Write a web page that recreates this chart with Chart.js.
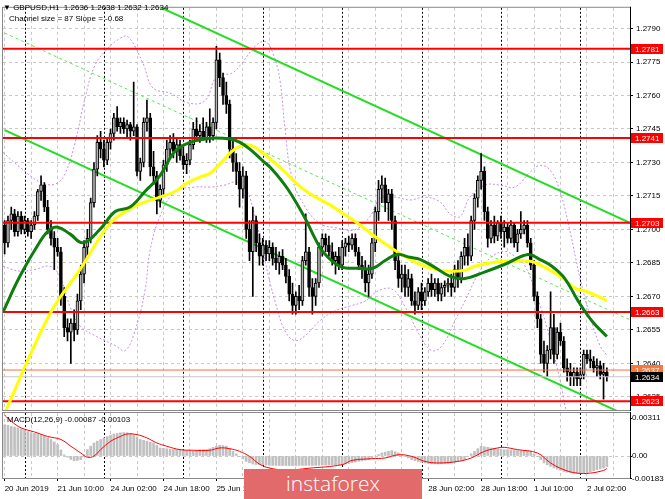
<!DOCTYPE html>
<html>
<head>
<meta charset="utf-8">
<script src="https://cdn.jsdelivr.net/npm/chart.js@4.4.1/dist/chart.umd.min.js"></script>
<style>
  html, body { margin: 0; padding: 0; background: #fff; }
  #wrap { position: relative; width: 665px; height: 499px; overflow: hidden; font-family: "Liberation Sans", Arial, sans-serif; }
  #wrap canvas { position: absolute; left: 0; top: 0; }
  .txt { position: absolute; font-size: 8px; line-height: 10px; color: #000; white-space: pre; }
  #logo { position: absolute; left: 244px; top: 469px; width: 178px; height: 32px; background: #e36a6a;
          color: #fff; font-family: "Open Sans", sans-serif; font-weight: 300; font-size: 21px; line-height: 28px; text-align: center; }
</style>
</head>
<body>
<div id="wrap">
  <canvas id="macd" width="665" height="499"></canvas>
  <canvas id="main" width="665" height="499"></canvas>
  <div class="txt" style="left:3px;top:3px;">▼ GBPUSD,H1  1.2636 1.2638 1.2632 1.2634</div>
  <div class="txt" style="left:9px;top:14px;">Channel size = 87 Slope = -0.68</div>
  <div class="txt" style="left:7px;top:415px;">MACD(12,26,9) -0.00087 -0.00103</div>
  <div id="logo">instaforex</div>
</div>
<script>
// GBPUSD H1, 20 Jun 18:00 .. 2 Jul 08:00 (one entry per hourly bar)
const opens = [
  1.2702,1.2694,1.2704,1.2707,1.2699,1.2706,1.2700,1.2704,1.2699,1.2702,
  1.2706,1.2717,1.2720,1.2710,1.2700,1.2696,1.2692,1.2690,1.2670,1.2656,
  1.2654,1.2658,1.2655,1.2668,1.2680,1.2692,1.2696,1.2712,1.2727,1.2739,
  1.2736,1.2731,1.2739,1.2743,1.2750,1.2746,1.2748,1.2745,1.2747,1.2744,
  1.2746,1.2726,1.2730,1.2748,1.2750,1.2728,1.2724,1.2713,1.2718,1.2729,
  1.2736,1.2739,1.2735,1.2738,1.2733,1.2729,1.2731,1.2738,1.2745,1.2742,
  1.2744,1.2741,1.2746,1.2742,1.2748,1.2776,1.2768,1.2760,1.2756,1.2736,
  1.2730,1.2726,1.2718,1.2724,1.2700,1.2690,1.2704,1.2694,1.2688,1.2693,
  1.2689,1.2692,1.2687,1.2685,1.2688,1.2684,1.2679,1.2671,1.2666,1.2670,
  1.2668,1.2686,1.2690,1.2674,1.2670,1.2676,1.2692,1.2696,1.2693,1.2690,
  1.2686,1.2688,1.2684,1.2692,1.2694,1.2693,1.2696,1.2690,1.2684,1.2682,
  1.2676,1.2680,1.2694,1.2708,1.2718,1.2720,1.2712,1.2716,1.2704,1.2686,
  1.2678,1.2680,1.2674,1.2678,1.2668,1.2666,1.2672,1.2668,1.2672,1.2676,
  1.2673,1.2676,1.2671,1.2674,1.2675,1.2676,1.2674,1.2682,1.2678,1.2688,
  1.2692,1.2688,1.2704,1.2714,1.2722,1.2726,1.2708,1.2696,1.2702,1.2697,
  1.2703,1.2699,1.2701,1.2696,1.2702,1.2694,1.2698,1.2700,1.2702,1.2694,
  1.2684,1.2670,1.2660,1.2644,1.2640,1.2646,1.2656,1.2644,1.2654,1.2650,
  1.2638,1.2636,1.2634,1.2636,1.2633,1.2635,1.2644,1.2642,1.2641,1.2638,
  1.2639,1.2635,1.2636
];
const highs = [
  1.2704,1.2706,1.2710,1.2709,1.2708,1.2708,1.2706,1.2705,1.2704,1.2708,
  1.2718,1.2724,1.2721,1.2713,1.2704,1.2699,1.2696,1.2692,1.2674,1.2660,
  1.2660,1.2664,1.2671,1.2684,1.2695,1.2700,1.2714,1.2730,1.2742,1.2744,
  1.2740,1.2741,1.2745,1.2752,1.2755,1.2750,1.2750,1.2749,1.2748,1.2766,
  1.2747,1.2732,1.2750,1.2758,1.2752,1.2735,1.2726,1.2720,1.2731,1.2740,
  1.2742,1.2743,1.2741,1.2740,1.2737,1.2734,1.2740,1.2748,1.2750,1.2747,
  1.2750,1.2748,1.2754,1.2750,1.2782,1.2779,1.2770,1.2766,1.2758,1.2740,
  1.2734,1.2730,1.2728,1.2726,1.2704,1.2710,1.2706,1.2698,1.2696,1.2695,
  1.2695,1.2694,1.2692,1.2690,1.2691,1.2687,1.2682,1.2676,1.2672,1.2675,
  1.2688,1.2707,1.2692,1.2678,1.2678,1.2694,1.2698,1.2698,1.2697,1.2694,
  1.2690,1.2692,1.2695,1.2696,1.2697,1.2698,1.2698,1.2692,1.2688,1.2686,
  1.2684,1.2696,1.2710,1.2722,1.2724,1.2723,1.2718,1.2718,1.2706,1.2690,
  1.2684,1.2684,1.2682,1.2680,1.2672,1.2674,1.2676,1.2674,1.2678,1.2680,
  1.2678,1.2678,1.2676,1.2677,1.2678,1.2680,1.2684,1.2686,1.2690,1.2696,
  1.2698,1.2706,1.2716,1.2724,1.2734,1.2728,1.2710,1.2704,1.2706,1.2704,
  1.2706,1.2704,1.2703,1.2704,1.2703,1.2700,1.2708,1.2704,1.2704,1.2696,
  1.2686,1.2672,1.2662,1.2650,1.2648,1.2672,1.2662,1.2656,1.2658,1.2652,
  1.2642,1.2640,1.2638,1.2638,1.2638,1.2646,1.2646,1.2646,1.2643,1.2642,
  1.2641,1.2640,1.2638
];
const lows = [
  1.2689,1.2692,1.2700,1.2697,1.2697,1.2698,1.2698,1.2697,1.2696,1.2700,
  1.2704,1.2713,1.2708,1.2698,1.2693,1.2682,1.2688,1.2666,1.2652,1.2650,
  1.2640,1.2650,1.2653,1.2664,1.2676,1.2688,1.2694,1.2710,1.2724,1.2732,
  1.2728,1.2729,1.2736,1.2740,1.2744,1.2743,1.2743,1.2741,1.2740,1.2742,
  1.2724,1.2722,1.2728,1.2744,1.2724,1.2720,1.2707,1.2710,1.2715,1.2726,
  1.2732,1.2732,1.2730,1.2731,1.2727,1.2725,1.2729,1.2736,1.2740,1.2739,
  1.2740,1.2739,1.2739,1.2740,1.2745,1.2764,1.2756,1.2752,1.2732,1.2726,
  1.2720,1.2710,1.2714,1.2696,1.2686,1.2670,1.2690,1.2684,1.2684,1.2686,
  1.2686,1.2684,1.2682,1.2680,1.2682,1.2676,1.2668,1.2662,1.2662,1.2664,
  1.2666,1.2684,1.2670,1.2662,1.2666,1.2674,1.2688,1.2690,1.2688,1.2684,
  1.2680,1.2682,1.2682,1.2688,1.2690,1.2691,1.2688,1.2682,1.2678,1.2672,
  1.2670,1.2678,1.2690,1.2704,1.2712,1.2708,1.2704,1.2700,1.2682,1.2674,
  1.2672,1.2670,1.2670,1.2666,1.2662,1.2664,1.2664,1.2666,1.2670,1.2670,
  1.2670,1.2668,1.2668,1.2670,1.2672,1.2670,1.2672,1.2674,1.2676,1.2684,
  1.2684,1.2686,1.2700,1.2710,1.2718,1.2704,1.2692,1.2694,1.2694,1.2695,
  1.2696,1.2692,1.2694,1.2694,1.2692,1.2690,1.2696,1.2698,1.2692,1.2682,
  1.2668,1.2656,1.2640,1.2636,1.2634,1.2642,1.2640,1.2642,1.2648,1.2636,
  1.2632,1.2630,1.2630,1.2630,1.2630,1.2633,1.2640,1.2638,1.2636,1.2634,
  1.2633,1.2624,1.2632
];
const closes = [
  1.2694,1.2704,1.2707,1.2699,1.2706,1.2700,1.2704,1.2699,1.2702,1.2706,
  1.2717,1.2720,1.2710,1.2700,1.2696,1.2692,1.2690,1.2670,1.2656,1.2654,
  1.2658,1.2655,1.2668,1.2680,1.2692,1.2696,1.2712,1.2727,1.2739,1.2736,
  1.2731,1.2739,1.2743,1.2750,1.2746,1.2748,1.2745,1.2747,1.2744,1.2746,
  1.2726,1.2730,1.2748,1.2750,1.2728,1.2724,1.2713,1.2718,1.2729,1.2736,
  1.2739,1.2735,1.2738,1.2733,1.2729,1.2731,1.2738,1.2745,1.2742,1.2744,
  1.2741,1.2746,1.2742,1.2748,1.2776,1.2768,1.2760,1.2756,1.2736,1.2730,
  1.2726,1.2718,1.2724,1.2700,1.2690,1.2704,1.2694,1.2688,1.2693,1.2689,
  1.2692,1.2687,1.2685,1.2688,1.2684,1.2679,1.2671,1.2666,1.2670,1.2668,
  1.2686,1.2690,1.2674,1.2670,1.2676,1.2692,1.2696,1.2693,1.2690,1.2686,
  1.2688,1.2684,1.2692,1.2694,1.2693,1.2696,1.2690,1.2684,1.2682,1.2676,
  1.2680,1.2694,1.2708,1.2718,1.2720,1.2712,1.2716,1.2704,1.2686,1.2678,
  1.2680,1.2674,1.2678,1.2668,1.2666,1.2672,1.2668,1.2672,1.2676,1.2673,
  1.2676,1.2671,1.2674,1.2675,1.2676,1.2674,1.2682,1.2678,1.2688,1.2692,
  1.2688,1.2704,1.2714,1.2722,1.2726,1.2708,1.2696,1.2702,1.2697,1.2703,
  1.2699,1.2701,1.2696,1.2702,1.2694,1.2698,1.2700,1.2702,1.2694,1.2684,
  1.2670,1.2660,1.2644,1.2640,1.2646,1.2656,1.2644,1.2654,1.2650,1.2638,
  1.2636,1.2634,1.2636,1.2633,1.2635,1.2644,1.2642,1.2641,1.2638,1.2639,
  1.2635,1.2636,1.2634
];

// moving averages, read at sample bars
const maGreenIdx = [-0.5,4.6,10.7,13.7,16.1,19.7,23.7,28.8,33.4,37.9,42.4,46.9,51.5,56,60.5,63.6,68.1,71.1,74.1,77.8,80.8,85.6,90.8,93.8,96.2,101.3,107.4,111.3,114.9,118.6,122.5,125.5,130,134.6,139.1,145.2,151.2,158.2,161.8,165.4,169.3,173.3,177.5,182];
const maGreen = [1.2663,1.2679,1.26946,1.2700,1.2701,1.2698,1.2694,1.2700,1.2708,1.2710,1.2717,1.2724,1.2735,1.2739,1.27405,1.2741,1.27405,1.2739,1.2736,1.2731,1.2727,1.2718,1.2705,1.2696,1.2690,1.26835,1.26826,1.26826,1.2686,1.26888,1.26875,1.26866,1.2683,1.2679,1.2678,1.2681,1.26844,1.26888,1.26865,1.26835,1.2678,1.2668,1.2659,1.2652];
const maYellowIdx = [-0.5,0.7,13.7,22.8,31.8,37.9,42.4,46.9,51.5,55.4,59,62.1,65.1,69.6,73.5,77.8,83.8,88.7,92.3,98.3,102.9,107.4,111.9,114.9,118.6,122.5,125.5,130,134.6,139.1,142.1,146.7,152.7,158.8,163.3,168.8,172.4,175.4,179.9,182];
const maYellow = [1.2615,1.2620,1.26622,1.26821,1.27026,1.27092,1.27123,1.27145,1.2717,1.2721,1.27234,1.27252,1.27295,1.2736,1.2738,1.27345,1.2727,1.2720,1.2716,1.2711,1.27066,1.2702,1.26968,1.26937,1.2690,1.26866,1.26844,1.26821,1.26813,1.26817,1.26835,1.2685,1.26857,1.26857,1.2683,1.2678,1.26737,1.26724,1.26697,1.2668];

// Bollinger-style dotted envelope
const bandUpIdx = [-0.5,4.6,10.7,15.2,18.2,21.3,24.3,27.3,31.2,34.9,37.3,41.8,44.8,50,55.4,60.5,64.2,68.7,71.7,75.7,78.7,81.1,83.2,84.7,86.8,90.8,95.3,99.8,105.9,110.4,113.4,117.9,122.5,127,131.6,134.6,137.6,140.6,145.2,149.7,154.2,158.8,161.8,164.9,167.9,170.9,173.9,176.9,179.9,182];
const bandUp = [1.27345,1.27279,1.27212,1.27203,1.27248,1.2739,1.27589,1.27736,1.27811,1.27856,1.27864,1.27745,1.27634,1.27611,1.27567,1.27576,1.27687,1.2770,1.27745,1.2782,1.27842,1.27789,1.27669,1.27456,1.27234,1.27101,1.27026,1.27008,1.26999,1.27057,1.27137,1.27145,1.27132,1.27145,1.27123,1.2707,1.27057,1.27145,1.27199,1.27199,1.2719,1.27256,1.27287,1.27265,1.27168,1.2699,1.26781,1.26613,1.2648,1.26436];
const bandLoIdx = [-0.5,4.6,9.2,13.7,16.7,19.7,22.8,27.3,30.3,33.4,36.4,39.4,42.4,43.9,46.9,51.5,57.5,62.1,66.6,69.6,72.6,75.7,78.7,81.7,84.7,87.7,90.8,95.3,99.8,104.4,108.9,112.8,117,120.9,125.5,129.1,132.2,136.1,139.1,143.6,147.3,151.2,154.2,157.3,160.3,164.2,167.9,170.9,176.9,182];
const bandLo = [1.26835,1.26813,1.26821,1.26835,1.2679,1.26657,1.26568,1.26524,1.26502,1.2648,1.26457,1.26546,1.26724,1.26901,1.27057,1.27168,1.2719,1.2719,1.27199,1.27212,1.2719,1.27057,1.26857,1.26679,1.26546,1.26502,1.26524,1.26591,1.26635,1.26657,1.26679,1.26724,1.26733,1.26657,1.26524,1.26457,1.26479,1.26591,1.26679,1.26813,1.26879,1.26901,1.26879,1.26835,1.26724,1.26546,1.26324,1.26147,1.26058,1.26102];

// regression channel (ends at bar 0 and bar 189)
const chanIdx = [0, 189];
const chanUpper = [1.28315, 1.27030];
const chanMid = [1.27880, 1.26595];
const chanLower = [1.27445, 1.26160];

// horizontal levels and current prices
const levels = [1.2781, 1.2741, 1.2703, 1.2663, 1.2623];
const askPrice = 1.2637;
const bidPrice = 1.2634;

// MACD(12,26,9): main line per bar, signal read at sample bars
const macdMain = [
  0.00256,0.00250,0.00242,0.00236,0.00230,0.00222,0.00212,0.00200,0.00190,0.00185,
  0.00180,0.00175,0.00162,0.00148,0.00135,0.00115,0.00093,0.00050,0.00010,-0.00010,
  -0.00028,-0.00038,-0.00036,-0.00030,0.00010,0.00052,0.00080,0.00107,0.00122,0.00135,
  0.00148,0.00160,0.00170,0.00180,0.00185,0.00190,0.00192,0.00190,0.00185,0.00175,
  0.00155,0.00135,0.00128,0.00120,0.00112,0.00107,0.00086,0.00066,0.00063,0.00060,
  0.00056,0.00052,0.00052,0.00052,0.00048,0.00044,0.00040,0.00038,0.00045,0.00052,
  0.00052,0.00052,0.00060,0.00071,0.00080,0.00087,0.00085,0.00080,0.00060,0.00038,
  0.00018,-0.00003,-0.00024,-0.00044,-0.00056,-0.00066,-0.00070,-0.00071,-0.00073,-0.00075,
  -0.00076,-0.00077,-0.00077,-0.00078,-0.00078,-0.00078,-0.00078,-0.00078,-0.00078,-0.00077,
  -0.00077,-0.00077,-0.00077,-0.00077,-0.00077,-0.00076,-0.00075,-0.00074,-0.00073,-0.00072,
  -0.00072,-0.00071,-0.00071,-0.00065,-0.00060,-0.00055,-0.00050,-0.00044,-0.00040,-0.00035,
  -0.00030,-0.00015,0.00000,0.00012,0.00025,0.00032,0.00038,0.00044,0.00035,0.00025,
  0.00010,-0.00003,-0.00016,-0.00030,-0.00038,-0.00045,-0.00052,-0.00057,-0.00060,-0.00062,
  -0.00064,-0.00066,-0.00064,-0.00062,-0.00060,-0.00057,-0.00050,-0.00043,-0.00036,-0.00030,
  -0.00005,0.00018,0.00038,0.00060,0.00080,0.00076,0.00071,0.00066,0.00062,0.00058,
  0.00055,0.00052,0.00050,0.00048,0.00046,0.00044,0.00042,0.00041,0.00040,0.00038,
  0.00018,-0.00003,-0.00030,-0.00057,-0.00072,-0.00085,-0.00098,-0.00108,-0.00118,-0.00126,
  -0.00132,-0.00137,-0.00140,-0.00141,-0.00141,-0.00140,-0.00135,-0.00128,-0.00120,-0.00112,
  -0.00105,-0.00098,-0.00087
];
const signalIdx = [0,2,5,9,13,17,20,23,25,27,29,32,35,37,40,43,46,49,53,57,62,65,68,71,74,77,80,85,92,102,105,111,115,119,123,127,131,137,141,145,149,151,155,161,165,169,173,177,181,182];
const signal = [0.00335,0.00284,0.00230,0.00197,0.00160,0.00135,0.00080,0.00025,-0.00010,0.00000,0.00052,0.00120,0.00160,0.00180,0.00175,0.00148,0.00107,0.00080,0.00052,0.00047,0.00047,0.00066,0.00060,0.00038,-0.00003,-0.00066,-0.00098,-0.00115,-0.00100,-0.00071,-0.00036,-0.00022,-0.00016,0.00010,-0.00003,-0.00044,-0.00057,-0.00044,-0.00016,0.00038,0.00066,0.00071,0.00052,0.00025,-0.00057,-0.00112,-0.00140,-0.00140,-0.00118,-0.00103];

// axis ticks
const priceTicks = [1.2790, 1.2775, 1.2760, 1.2745, 1.2730, 1.2715, 1.2700, 1.2685, 1.2670, 1.2655, 1.2640, 1.2625];
const macdTicks = [0.00311, 0, -0.00183];
const macdTickText = ['0.00311', '0.00', '-0.00183'];
const xLabelIdx = [0, 16, 32, 48, 64, 80, 96, 112, 128, 144, 160, 176];
const xLabels = ['20 Jun 2019', '21 Jun 10:00', '24 Jun 02:00', '24 Jun 18:00', '25 Jun 10:00', '26 Jun 02:00',
                 '26 Jun 18:00', '27 Jun 10:00', '28 Jun 02:00', '28 Jun 18:00', '1 Jul 10:00', '2 Jul 02:00'];
const gridIdx = [0,8,16,24,32,40,48,56,64,72,80,88,96,104,112,120,128,136,144,152,160,168,176,184];
const dayStarts = [6, 30, 54, 78, 102, 126, 150, 174];

const X_MIN = -0.5, X_MAX = 189;
const tickFont = { family: '"Liberation Sans", Arial, sans-serif', size: 8 };
const bars = opens.map((_, i) => i);
const pts = (xs, ys) => xs.map((x, k) => ({ x: x, y: ys[k] }));
const lineDs = (data, color, width, extra) => Object.assign({
  type: 'line', data: data, borderColor: color, borderWidth: width, pointRadius: 0, fill: false
}, extra || {});

const daySepPlugin = {
  id: 'daySep',
  beforeDatasetsDraw(chart) {
    const { ctx, chartArea: a, scales: { x } } = chart;
    ctx.save();
    ctx.strokeStyle = '#000';
    ctx.lineWidth = 1;
    ctx.setLineDash([2, 2]);
    dayStarts.forEach(i => {
      const px = Math.round(x.getPixelForValue(i)) + 0.5;
      ctx.beginPath(); ctx.moveTo(px, a.top); ctx.lineTo(px, a.bottom); ctx.stroke();
    });
    ctx.restore();
  },
  afterDraw(chart) {
    const { ctx, chartArea: a } = chart;
    ctx.save();
    ctx.strokeStyle = '#8a8a8a';
    ctx.lineWidth = 1;
    ctx.strokeRect(a.left - 0.5, a.top - 0.5, a.right - a.left + 1, a.bottom - a.top + 1);
    ctx.strokeStyle = '#000';
    ctx.beginPath(); ctx.moveTo(a.right + 0.5, a.top - 1); ctx.lineTo(a.right + 0.5, a.bottom + 1); ctx.stroke();
    ctx.restore();
  }
};

const priceBoxes = levels.map(v => ({ v: v, bg: '#ff0000' }))
  .concat([{ v: askPrice, bg: '#f47a40' }, { v: bidPrice, bg: '#000000' }]);

const boxPlugin = {
  id: 'priceBoxes',
  afterDraw(chart) {
    const { ctx, chartArea: a, scales: { y } } = chart;
    ctx.save();
    ctx.font = '8px "Liberation Sans", Arial, sans-serif';
    ctx.textBaseline = 'middle';
    priceBoxes.forEach(b => {
      const py = Math.round(y.getPixelForValue(b.v));
      ctx.fillStyle = b.bg;
      ctx.fillRect(a.right + 1, py - 5, 32, 10);
      ctx.fillStyle = '#fff';
      ctx.fillText(b.v.toFixed(4), a.right + 5, py + 0.5);
    });
    ctx.restore();
  }
};

new Chart(document.getElementById('main'), {
  data: {
    datasets: [
      lineDs(pts(bandUpIdx, bandUp), '#c78cf0', 1, { borderDash: [2, 2], tension: 0.4, order: 9 }),
      lineDs(pts(bandLoIdx, bandLo), '#c78cf0', 1, { borderDash: [2, 2], tension: 0.4, order: 9 }),
      lineDs(pts(chanIdx, chanMid), '#55e855', 1, { borderDash: [3, 3], order: 8 }),
      lineDs(pts(chanIdx, chanUpper), '#22dd22', 2, { order: 7 }),
      lineDs(pts(chanIdx, chanLower), '#22dd22', 2, { order: 7 }),
      {
        type: 'bar', order: 6, grouped: false, barThickness: 1,
        data: bars.map(i => ({ x: i, y: [lows[i], highs[i]] })),
        backgroundColor: '#000'
      },
      {
        type: 'bar', order: 5, grouped: false, barThickness: 3,
        data: bars.map(i => ({ x: i, y: [opens[i], closes[i]] })),
        backgroundColor: bars.map(i => closes[i] >= opens[i] ? '#b4b4b4' : '#000'),
        borderColor: '#000', borderWidth: 1, borderSkipped: false
      },
      ...levels.map(v => lineDs(pts([X_MIN, X_MAX], [v, v]), '#ff0000', 2, { order: 4 })),
      lineDs(pts([X_MIN, X_MAX], [askPrice, askPrice]), '#ff6a3a', 1, { order: 4 }),
      lineDs(pts([X_MIN, X_MAX], [bidPrice, bidPrice]), '#c8c8c8', 1, { order: 4 }),
      lineDs(pts(maYellowIdx, maYellow), '#ffff00', 3, { tension: 0.4, order: 2 }),
      lineDs(pts(maGreenIdx, maGreen), '#0e7d0e', 3, { tension: 0.4, order: 1 })
    ]
  },
  options: {
    responsive: false,
    animation: false,
    events: [],
    layout: { padding: { left: 3, top: 4, right: 0, bottom: 89 } },
    plugins: { legend: { display: false }, tooltip: { enabled: false } },
    scales: {
      x: {
        type: 'linear', min: X_MIN, max: X_MAX, offset: false,
        afterBuildTicks: s => { s.ticks = gridIdx.map(v => ({ value: v })); },
        afterFit: s => { s.height = 0; },
        ticks: { display: false },
        grid: { color: '#c8c8c8', drawTicks: false, offset: false },
        border: { display: false, dash: [3, 3] }
      },
      y: {
        position: 'right',
        min: 1.26191, max: 1.27993,
        afterBuildTicks: s => { s.ticks = priceTicks.map(v => ({ value: v })); },
        afterFit: s => { s.width = 35; },
        ticks: { font: tickFont, color: '#000', padding: 3, callback: v => v.toFixed(4) },
        grid: { color: '#c8c8c8', tickColor: '#000', tickLength: 3, tickBorderDash: [] },
        border: { display: false, dash: [3, 3] }
      }
    }
  },
  plugins: [daySepPlugin, boxPlugin]
});

new Chart(document.getElementById('macd'), {
  data: {
    datasets: [
      {
        type: 'bar', order: 2, barThickness: 2,
        data: bars.map(i => ({ x: i, y: macdMain[i] })),
        backgroundColor: '#c0c0c0'
      },
      lineDs(pts(signalIdx, signal), '#ff0000', 1, { tension: 0.4, order: 1 })
    ]
  },
  options: {
    responsive: false,
    animation: false,
    events: [],
    layout: { padding: { left: 3, top: 413, right: 0, bottom: 0 } },
    plugins: { legend: { display: false }, tooltip: { enabled: false } },
    scales: {
      x: {
        type: 'linear', min: X_MIN, max: X_MAX, offset: false,
        afterBuildTicks: s => { s.ticks = gridIdx.map(v => ({ value: v })); },
        afterFit: s => { s.height = 21; },
        ticks: {
          font: tickFont, color: '#000', padding: 3, align: 'start', autoSkip: false, maxRotation: 0,
          callback: v => { const k = xLabelIdx.indexOf(v); return k >= 0 ? xLabels[k] : ''; }
        },
        grid: {
          color: '#c8c8c8', tickLength: 3, tickBorderDash: [], offset: false,
          tickColor: c => xLabelIdx.includes(c.tick && c.tick.value) ? '#000' : 'rgba(0,0,0,0)'
        },
        border: { display: false, dash: [3, 3] }
      },
      y: {
        position: 'right',
        min: -0.0018, max: 0.00352,
        afterBuildTicks: s => { s.ticks = macdTicks.map(v => ({ value: v })); },
        afterFit: s => { s.width = 35; },
        ticks: { font: tickFont, color: '#000', padding: 0, callback: (v, k) => macdTickText[k] },
        grid: {
          color: c => (c.tick && c.tick.value === 0) ? '#c8c8c8' : 'rgba(0,0,0,0)',
          tickColor: '#000', tickLength: 2, tickBorderDash: []
        },
        border: { display: false, dash: [3, 3] }
      }
    }
  },
  plugins: [daySepPlugin]
});
</script>
</body>
</html>
